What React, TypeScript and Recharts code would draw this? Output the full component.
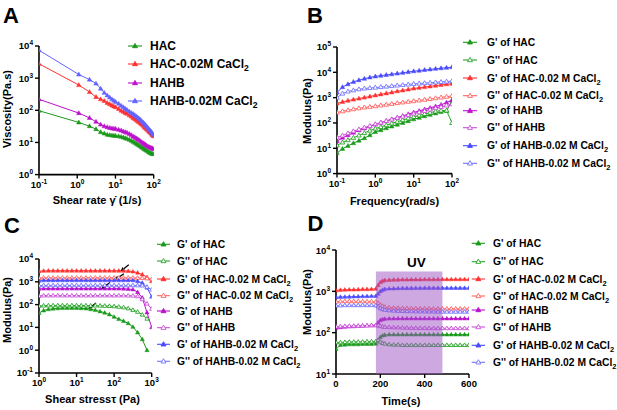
import React from "react";
import { LineChart, Line, XAxis, YAxis, ReferenceArea, ReferenceLine } from "recharts";

const FONT = "Arial, 'Liberation Sans', Helvetica, sans-serif";

// ---- A: viscosity vs shear rate
const shearRate = [0.1, 1.1, 2.1, 3.1, 4.1, 5.1, 6.1, 7.1, 8.1, 9.1, 10.1, 12.1, 14.1, 16.1, 18.1, 20.1, 23, 26, 29, 32, 35, 38, 41, 45, 49, 53, 57, 61, 65, 70, 75, 80, 85, 90, 95, 100];
const viscHAC = [97, 42, 32, 26, 21, 19, 17.5, 17, 16.5, 16.3, 16, 15.6, 15, 14.3, 13.6, 13, 12.2, 11.3, 10.5, 9.8, 9.2, 8.6, 8.1, 7.5, 7.0, 6.6, 6.2, 5.9, 5.6, 5.3, 5.0, 4.8, 4.6, 4.5, 4.4, 4.3];
const viscHACCa = [2800, 610, 370, 260, 220, 195, 170, 155, 142, 132, 125, 110, 98, 90, 83, 78, 70, 64, 58, 54, 50, 46, 43, 39, 36, 33, 30, 28, 26, 24, 22, 20.5, 19, 17.5, 16.5, 15.5];
const viscHAHB = [220, 82, 58, 44, 36, 32, 30, 28.5, 27.5, 27, 26.5, 25, 23.5, 22, 21, 20, 18.5, 17, 15.5, 14.5, 13.5, 12.7, 12, 11, 10.2, 9.5, 9, 8.5, 8, 7.6, 7.3, 7, 6.8, 6.6, 6.4, 6.2];
const viscHAHBCa = [7400, 1300, 900, 680, 470, 350, 290, 250, 220, 200, 182, 160, 140, 125, 112, 103, 92, 83, 77, 71, 65, 60, 56, 51, 46, 42, 38, 35, 32, 29, 26, 24, 22, 20, 18.5, 17];

// ---- B: frequency sweep
const frequency = [0.1, 0.139, 0.193, 0.268, 0.373, 0.518, 0.72, 1, 1.39, 1.93, 2.68, 3.73, 5.18, 7.2, 10, 13.9, 19.3, 26.8, 37.3, 51.8, 72, 100];
const bGpHAC = [6.5, 9.5, 12.5, 16, 20, 25, 33, 44, 52, 62, 73, 86, 100, 118, 140, 160, 185, 210, 240, 270, 300, 750];
const bGppHAC = [13, 17, 21, 26, 32, 40, 50, 60, 70, 82, 96, 112, 130, 152, 175, 200, 225, 255, 285, 310, 310, 100];
const bGpHACCa = [590, 680, 760, 840, 920, 1010, 1110, 1230, 1350, 1480, 1620, 1780, 1930, 2100, 2300, 2450, 2620, 2800, 2990, 3180, 3370, 3560];
const bGppHACCa = [260, 290, 320, 350, 380, 410, 435, 460, 495, 530, 570, 610, 650, 690, 730, 780, 830, 890, 950, 1020, 1090, 1170];
const bGpHAHB = [19, 26, 33, 41, 51, 61, 73, 87, 102, 120, 140, 163, 190, 222, 260, 300, 345, 395, 450, 520, 640, 800];
const bGppHAHB = [27, 32, 39, 47, 56, 66, 77, 90, 104, 120, 138, 158, 180, 205, 235, 265, 300, 340, 385, 430, 490, 550];
const bGpHAHBCa = [1600, 2600, 3400, 4200, 4900, 5600, 6300, 6900, 7400, 7900, 8400, 9000, 9600, 10300, 11000, 11700, 12400, 13100, 13800, 14500, 15200, 16000];
const bGppHAHBCa = [1000, 1450, 1750, 1950, 2150, 2300, 2400, 2500, 2620, 2750, 2880, 3020, 3160, 3320, 3500, 3620, 3750, 3880, 4020, 4160, 4320, 4500];

// ---- C: stress sweep
const shearStress = [1, 1.33, 1.78, 2.37, 3.16, 4.22, 5.62, 7.5, 10, 13.3, 17.8, 23.7, 31.6, 42.2, 56.2, 75, 100, 133, 178, 237, 316, 422, 562, 750, 1000];
const cGpHAC = [43, 55, 62, 66, 68, 70, 70, 70, 70, 69, 67, 62, 57, 50, 44, 37, 29, 23, 19, 15, 10.5, 6, 3, 1, null];
const cGppHAC = [88, 90, 91, 92, 92, 92, 92, 92, 92, 91, 91, 90, 90, 89, 88, 86, 84, 80, 75, 68, 58, 48, 36, 24, null];
const cGpHACCa = [2900, 3000, 3050, 3050, 3050, 3050, 3050, 3050, 3050, 3050, 3050, 3050, 3050, 3050, 3050, 3050, 3050, 3050, 3000, 2950, 2800, 2500, 2100, 1600, 1050];
const cGppHACCa = [1450, 1500, 1500, 1500, 1500, 1500, 1500, 1500, 1500, 1500, 1500, 1500, 1500, 1500, 1500, 1500, 1500, 1500, 1500, 1500, 1500, 1480, 1450, 1400, 1300];
const cGpHAHB = [490, 500, 500, 500, 500, 500, 500, 500, 500, 500, 500, 500, 500, 500, 500, 500, 500, 500, 495, 480, 460, 350, 200, 45, 10];
const cGppHAHB = [240, 250, 250, 250, 250, 250, 250, 250, 250, 250, 250, 250, 250, 250, 250, 250, 250, 250, 250, 248, 245, 230, 170, 110, 65];
const cGpHAHBCa = [1100, 1150, 1150, 1150, 1150, 1150, 1150, 1150, 1150, 1150, 1150, 1150, 1150, 1150, 1150, 1150, 1150, 1150, 1150, 1150, 1150, 1050, 900, 550, 220];
const cGppHAHBCa = [680, 700, 700, 700, 700, 700, 700, 700, 700, 700, 700, 700, 700, 700, 700, 700, 700, 700, 700, 700, 700, 690, 680, 600, 450];
// yield-point arrows: [stress, modulus] tail -> head
const arrowTails = [[246, 5600], [182, 2270], [78, 940], [33, 117]];
const arrowHeads = [[149, 2900], [105, 1230], [46, 500], [20.5, 65]];

// ---- D: time sweep with UV
const time = [0, 20, 40, 60, 80, 100, 120, 140, 160, 180, 190, 200, 210, 220, 240, 260, 280, 300, 320, 340, 360, 380, 400, 420, 440, 460, 480, 500, 520, 540, 560, 580, 600];
const dGpHAC = [40, 50, 51, 52, 52, 52, 53, 53, 53, 54, 65, 78, 85, 88, 90, 90, 90, 90, 90, 90, 90, 90, 90, 90, 90, 90, 90, 90, 90, 90, 90, 90, 90];
const dGppHAC = [58, 58, 59, 60, 60, 60, 60, 61, 61, 62, 66, 60, 56, 54, 52, 51, 51, 50, 50, 50, 50, 50, 50, 50, 50, 50, 50, 50, 50, 50, 50, 50, 50];
const dGpHACCa = [1050, 1080, 1090, 1100, 1100, 1110, 1120, 1120, 1130, 1150, 1400, 1650, 1780, 1850, 1880, 1900, 1910, 1920, 1920, 1930, 1930, 1930, 1940, 1940, 1940, 1940, 1950, 1950, 1950, 1950, 1950, 1950, 1950];
const dGppHACCa = [560, 570, 575, 575, 575, 575, 570, 570, 570, 560, 520, 470, 440, 420, 405, 400, 395, 392, 390, 388, 386, 385, 384, 383, 382, 381, 380, 380, 380, 380, 380, 380, 380];
const dGpHAHB = [130, 135, 138, 140, 142, 144, 146, 148, 150, 152, 175, 200, 210, 215, 218, 219, 220, 220, 220, 220, 220, 220, 220, 220, 220, 220, 220, 220, 220, 220, 220, 220, 220];
const dGppHAHB = [140, 142, 144, 145, 146, 147, 148, 149, 150, 150, 150, 145, 140, 137, 135, 134, 133, 132, 131, 130, 130, 129, 129, 128, 128, 128, 128, 128, 128, 128, 128, 128, 128];
const dGpHAHBCa = [720, 730, 735, 740, 745, 750, 755, 760, 765, 770, 870, 1000, 1080, 1130, 1160, 1170, 1180, 1185, 1190, 1190, 1195, 1195, 1200, 1200, 1200, 1200, 1200, 1200, 1200, 1200, 1200, 1200, 1200];
const dGppHAHBCa = [450, 455, 460, 460, 460, 460, 460, 460, 460, 455, 430, 390, 370, 355, 345, 340, 336, 333, 330, 328, 326, 325, 324, 323, 322, 321, 320, 320, 320, 320, 320, 320, 320];
const uvStart = 180;
const uvEnd = 480;
const uvTop = 3000;

const decades = (a: number, b: number) => Array.from({ length: b - a + 1 }, (_, i) => Math.pow(10, a + i));

const GREEN = "#1a9a1a", GREEN2 = "#2aa52a";
const RED = "#ff3030", RED2 = "#ff6262";
const MAG = "#bb10cc", MAG2 = "#c950d8";
const BLUE = "#4a4aff", BLUE2 = "#7373ff";

const modSeries = [
  { key: "gpHAC", label: "G' of HAC", color: GREEN, open: false, sub: false },
  { key: "gppHAC", label: "G'' of HAC", color: GREEN2, open: true, sub: false },
  { key: "gpHACCa", label: "G' of HAC-0.02 M CaCl", color: RED, open: false, sub: true },
  { key: "gppHACCa", label: "G'' of HAC-0.02 M CaCl", color: RED2, open: true, sub: true },
  { key: "gpHAHB", label: "G' of HAHB", color: MAG, open: false, sub: false },
  { key: "gppHAHB", label: "G'' of HAHB", color: MAG2, open: true, sub: false },
  { key: "gpHAHBCa", label: "G' of HAHB-0.02 M CaCl", color: BLUE, open: false, sub: true },
  { key: "gppHAHBCa", label: "G'' of HAHB-0.02 M CaCl", color: BLUE2, open: true, sub: true },
];
const viscSeries = [
  { key: "hac", label: "HAC", color: GREEN, open: false, sub: false },
  { key: "hacCa", label: "HAC-0.02M CaCl", color: RED, open: false, sub: true },
  { key: "hahb", label: "HAHB", color: MAG, open: false, sub: false },
  { key: "hahbCa", label: "HAHB-0.02M CaCl", color: "#6262ff", open: false, sub: true },
];

const dataA = shearRate.map((x, i) => ({ x, hac: viscHAC[i], hacCa: viscHACCa[i], hahb: viscHAHB[i], hahbCa: viscHAHBCa[i] }));
const modTable = (xs: number[], cols: (number | null)[][]) =>
  xs.map((x, i) => {
    const row: Record<string, number | null> = { x };
    modSeries.forEach((s, k) => (row[s.key] = cols[k][i]));
    return row;
  });
const dataB = modTable(frequency, [bGpHAC, bGppHAC, bGpHACCa, bGppHACCa, bGpHAHB, bGppHAHB, bGpHAHBCa, bGppHAHBCa]);
const dataC = modTable(shearStress, [cGpHAC, cGppHAC, cGpHACCa, cGppHACCa, cGpHAHB, cGppHAHB, cGpHAHBCa, cGppHAHBCa]);
const dataD = modTable(time, [dGpHAC, dGppHAC, dGpHACCa, dGppHACCa, dGpHAHB, dGppHAHB, dGpHAHBCa, dGppHAHBCa]);

function triPath(cx: number, cy: number, s: number) {
  const h = s * 0.95;
  return `M${cx},${cy - s}L${cx + h},${cy + s * 0.65}L${cx - h},${cy + s * 0.65}Z`;
}

function tri(color: string, open: boolean, s: number) {
  return (p: any) => {
    const { cx, cy, index } = p;
    if (!Number.isFinite(cx) || !Number.isFinite(cy)) return <g key={`n${index}`} />;
    return <path key={`t${index}`} d={triPath(cx, cy, s)} fill={open ? "#fff" : color} stroke={color} strokeWidth={open ? 0.9 : 0.5} />;
  };
}

function XPowTick(props: any) {
  const { x, y, payload } = props;
  const e = Math.round(Math.log10(payload.value));
  return (
    <text x={x} y={y} dy={7} textAnchor="middle" fontFamily={FONT} fontWeight="bold" fontSize={9.5} fill="#000">
      <tspan>10</tspan>
      <tspan dy={-4} fontSize={6.5}>{e}</tspan>
    </text>
  );
}

function YPowTick(props: any) {
  const { x, y, payload } = props;
  const e = Math.round(Math.log10(payload.value));
  return (
    <text x={x} y={y} dy={3.5} textAnchor="end" fontFamily={FONT} fontWeight="bold" fontSize={9.5} fill="#000">
      <tspan>10</tspan>
      <tspan dy={-4} fontSize={6.5}>{e}</tspan>
    </text>
  );
}

function PlainTick(props: any) {
  const { x, y, payload } = props;
  return (
    <text x={x} y={y} dy={7} textAnchor="middle" fontFamily={FONT} fontWeight="bold" fontSize={9.5} fill="#000">
      {payload.value}
    </text>
  );
}

const arrowShape = (p: any) => {
  const { x1, y1, x2, y2 } = p;
  const a = Math.atan2(y2 - y1, x2 - x1);
  const L = 4, W = 2.2;
  const bx = x2 - L * Math.cos(a), by = y2 - L * Math.sin(a);
  const px = -Math.sin(a) * W, py = Math.cos(a) * W;
  return (
    <g>
      <line x1={x1} y1={y1} x2={bx} y2={by} stroke="#000" strokeWidth={1.3} />
      <path d={`M${x2},${y2}L${bx + px},${by + py}L${bx - px},${by - py}Z`} fill="#000" />
    </g>
  );
};

const axisLine = { stroke: "#000", strokeWidth: 1.6 };
const tickLine = { stroke: "#000", strokeWidth: 1.4 };

type Plot = { x: number; y: number; w: number; h: number };

function Frame({ plot, data, children }: { plot: Plot; data: any[]; children: React.ReactNode }) {
  return (
    <div style={{ position: "absolute", left: plot.x - 40, top: plot.y - 10 }}>
      <LineChart width={plot.w + 52} height={plot.h + 34} data={data} margin={{ top: 10, right: 12, bottom: 0, left: 0 }}>
        {children}
      </LineChart>
    </div>
  );
}

function LegendBlock({ x1, x2, tx, rows, items, fontSize }: { x1: number; x2: number; tx: number; rows: number[]; items: typeof modSeries; fontSize: number }) {
  return (
    <g fontFamily={FONT} fontWeight="bold" fontSize={fontSize} fill="#000">
      {items.map((s, i) => (
        <g key={s.key}>
          <line x1={x1} x2={x2} y1={rows[i]} y2={rows[i]} stroke={s.color} strokeWidth={1.1} />
          <path d={triPath((x1 + x2) / 2, rows[i], 2.6)} fill={s.open ? "#fff" : s.color} stroke={s.color} strokeWidth={0.9} />
          <text x={tx} y={rows[i] + fontSize * 0.36}>
            {s.label}
            {s.sub ? <tspan dy={3} fontSize={fontSize * 0.72}>2</tspan> : null}
          </text>
        </g>
      ))}
    </g>
  );
}

const plotA = { x: 39, y: 45.7, w: 114.7, h: 128.6 };
const plotB = { x: 337, y: 46.7, w: 115, h: 126.6 };
const plotC = { x: 39, y: 259.3, w: 112.7, h: 114 };
const plotD = { x: 336, y: 250, w: 133, h: 124 };

function modLines(size: number, thin: boolean) {
  return modSeries.map((s) => (
    <Line key={s.key} dataKey={s.key} type="linear" stroke={s.color} strokeWidth={thin ? 0.9 : 1} dot={tri(s.color, s.open, size)} activeDot={false} isAnimationActive={false} connectNulls={false} />
  ));
}

export default function App() {
  const title = { fontFamily: FONT, fontWeight: "bold" as const, fontSize: 11, fill: "#000" };
  const letter = { fontFamily: FONT, fontWeight: "bold" as const, fontSize: 22, fill: "#000" };
  return (
    <div style={{ position: "absolute", left: 0, top: 0, width: 617, height: 410, background: "#fff", overflow: "hidden" }}>
      <Frame plot={plotA} data={dataA}>
        <XAxis dataKey="x" type="number" scale="log" domain={[0.1, 100]} ticks={decades(-1, 2)} allowDataOverflow axisLine={axisLine} tickLine={tickLine} tickSize={4} height={24} tick={<XPowTick />} interval={0} />
        <YAxis type="number" scale="log" domain={[1, 10000]} ticks={decades(0, 4)} allowDataOverflow axisLine={axisLine} tickLine={tickLine} tickSize={4} width={40} tick={<YPowTick />} interval={0} />
        {viscSeries.map((s) => (
          <Line key={s.key} dataKey={s.key} type="linear" stroke={s.color} strokeWidth={1} dot={tri(s.color, false, 2.4)} activeDot={false} isAnimationActive={false} />
        ))}
      </Frame>

      <Frame plot={plotB} data={dataB}>
        <XAxis dataKey="x" type="number" scale="log" domain={[0.1, 100]} ticks={decades(-1, 2)} allowDataOverflow axisLine={axisLine} tickLine={tickLine} tickSize={4} height={24} tick={<XPowTick />} interval={0} />
        <YAxis type="number" scale="log" domain={[1, 100000]} ticks={decades(0, 5)} allowDataOverflow axisLine={axisLine} tickLine={tickLine} tickSize={4} width={40} tick={<YPowTick />} interval={0} />
        {modLines(2.4, false)}
      </Frame>

      <Frame plot={plotC} data={dataC}>
        <XAxis dataKey="x" type="number" scale="log" domain={[1, 1000]} ticks={decades(0, 3)} allowDataOverflow axisLine={axisLine} tickLine={tickLine} tickSize={4} height={24} tick={<XPowTick />} interval={0} />
        <YAxis type="number" scale="log" domain={[0.1, 10000]} ticks={decades(-1, 4)} allowDataOverflow axisLine={axisLine} tickLine={tickLine} tickSize={4} width={40} tick={<YPowTick />} interval={0} />
        {modLines(2.2, false)}
        {arrowHeads.map((h, i) => (
          <ReferenceLine key={`ar${i}`} segment={[{ x: arrowTails[i][0], y: arrowTails[i][1] }, { x: h[0], y: h[1] }]} ifOverflow="visible" shape={arrowShape} />
        ))}
      </Frame>

      <Frame plot={plotD} data={dataD}>
        <XAxis dataKey="x" type="number" domain={[0, 600]} ticks={[0, 200, 400, 600]} allowDataOverflow axisLine={axisLine} tickLine={tickLine} tickSize={4} height={24} tick={<PlainTick />} interval={0} />
        <YAxis type="number" scale="log" domain={[10, 10000]} ticks={decades(1, 4)} allowDataOverflow axisLine={axisLine} tickLine={tickLine} tickSize={4} width={40} tick={<YPowTick />} interval={0} />
        {modLines(2.2, true)}
        <ReferenceArea x1={uvStart} x2={uvEnd} y1={10} y2={uvTop} fill="#9b51c3" fillOpacity={0.5} stroke="none" ifOverflow="visible" zIndex={1000} />
      </Frame>

      <svg width={617} height={410} style={{ position: "absolute", left: 0, top: 0, pointerEvents: "none" }}>
        <text x={3} y={23} {...letter}>A</text>
        <text x={307} y={23} {...letter}>B</text>
        <text x={4} y={233} {...letter}>C</text>
        <text x={307.5} y={231} {...letter}>D</text>

        <text transform="translate(10.5,109) rotate(-90)" textAnchor="middle" {...title}>Viscosity(Pa.s)</text>
        <text x={97} y={204} textAnchor="middle" {...title}>Shear rate γ̇  (1/s)</text>
        <text transform="translate(311,111) rotate(-90)" textAnchor="middle" {...title}>Modulus(Pa)</text>
        <text x={394.5} y={205} textAnchor="middle" {...title}>Frequency(rad/s)</text>
        <text transform="translate(10.5,310) rotate(-90)" textAnchor="middle" {...title}>Modulus(Pa)</text>
        <text x={92.5} y={403} textAnchor="middle" {...title}>Shear stressτ (Pa)</text>
        <text transform="translate(310.5,302) rotate(-90)" textAnchor="middle" {...title}>Modulus(Pa)</text>
        <text x={401} y={404.5} textAnchor="middle" {...title}>Time(s)</text>
        <text x={416.5} y={266.5} textAnchor="middle" fontFamily={FONT} fontWeight="bold" fontSize={13.5} fill="#000">UV</text>

        <LegendBlock x1={128} x2={142} tx={150} rows={[46, 64, 83, 101]} items={viscSeries} fontSize={12} />
        <LegendBlock x1={463} x2={477} tx={487} rows={[42.3, 60, 78, 95.7, 110.7, 127.7, 145.7, 163.3]} items={modSeries} fontSize={10.3} />
        <LegendBlock x1={157} x2={170} tx={177} rows={[244.3, 261, 279, 295.7, 311, 327.7, 344.3, 361.3]} items={modSeries} fontSize={10.3} />
        <LegendBlock x1={471.7} x2={485} tx={493} rows={[243.3, 261.7, 279, 296, 310, 327, 345.3, 362.3]} items={modSeries} fontSize={10.3} />
      </svg>
    </div>
  );
}
